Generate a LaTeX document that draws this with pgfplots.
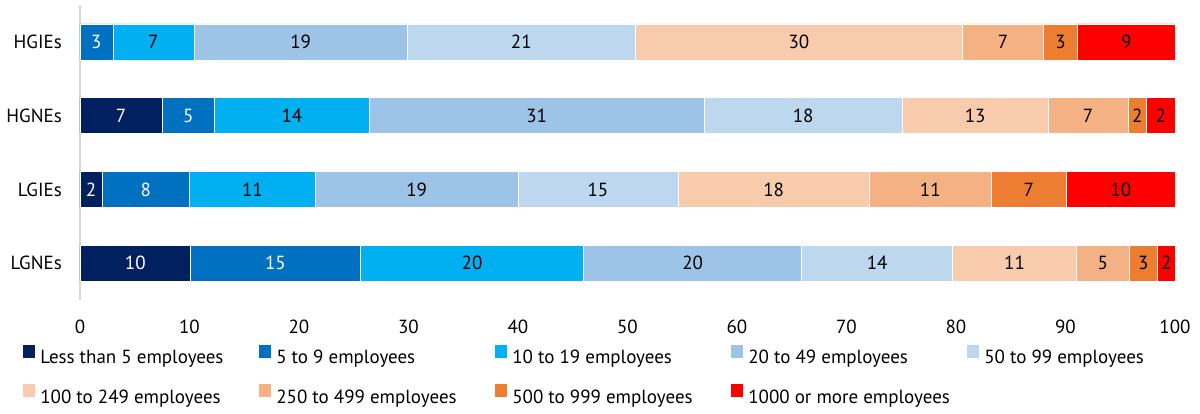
\documentclass[border=0pt]{standalone}
\usepackage{fontspec}
\setmainfont{PT Sans}
\usepackage{pgfplots}
\pgfplotsset{compat=1.18}
\definecolor{c1}{HTML}{002060}
\definecolor{c2}{HTML}{0070C0}
\definecolor{c3}{HTML}{00B0F0}
\definecolor{c4}{HTML}{9DC3E6}
\definecolor{c5}{HTML}{BDD7EE}
\definecolor{c6}{HTML}{F8CBAD}
\definecolor{c7}{HTML}{F4B183}
\definecolor{c8}{HTML}{ED7D31}
\definecolor{c9}{HTML}{FF0000}
\newcommand{\lbox}[1]{\makebox[219pt][l]{#1}}
\begin{document}
\begin{tikzpicture}[font=\fontsize{19}{22}\selectfont]
\path[use as bounding box] (0pt,0pt) rectangle (1200pt,-414pt);
\begin{axis}[
  at={(80pt,-300pt)}, anchor=south west,
  width=1095pt, height=295pt, scale only axis,
  xbar stacked, bar width=36pt,
  xmin=0, xmax=100, ymin=-0.5, ymax=3.5,
  xtick={0,10,...,100},
  ytick={0,1,2,3}, yticklabels={LGNEs,LGIEs,HGNEs,HGIEs},
  axis y line*=left, axis x line*=bottom,
  x axis line style={draw=none},
  y axis line style={draw=black!15, line width=2pt},
  major tick length=0pt,
  /pgf/number format/assume math mode=true,
  xticklabel style={anchor=north, inner sep=0pt, yshift=-20pt},
  yticklabel style={anchor=east, inner sep=0pt, xshift=-18pt},
  point meta=explicit symbolic,
  nodes near coords,
  every node near coord/.append style={inner sep=0pt, text=black},
  legend image code/.code={\fill[#1,draw=none] (0pt,0pt) rectangle (12pt,13pt);},
  legend columns=5,
  legend cell align=left,
  legend style={at={(-0.0547,-0.145)}, anchor=north west, draw=none,
    nodes={inner sep=0pt}, row sep=19pt,
    /tikz/every odd column/.append style={column sep=5pt}},
]
\addplot[fill=c1, draw=white, line width=0.5pt, every node near coord/.append style={text=white}] coordinates {(10.1,0) [10] (2.0,1) [2] (7.5,2) [7] (0,3) []};
\addplot[fill=c2, draw=white, line width=0.5pt, every node near coord/.append style={text=white}] coordinates {(15.5,0) [15] (8.0,1) [8] (4.8,2) [5] (3.0,3) [3]};
\addplot[fill=c3, draw=white, line width=0.5pt] coordinates {(20.4,0) [20] (11.5,1) [11] (14.1,2) [14] (7.4,3) [7]};
\addplot[fill=c4, draw=white, line width=0.5pt] coordinates {(19.9,0) [20] (18.5,1) [19] (30.6,2) [31] (19.5,3) [19]};
\addplot[fill=c5, draw=white, line width=0.5pt] coordinates {(13.8,0) [14] (14.6,1) [15] (18.1,2) [18] (20.8,3) [21]};
\addplot[fill=c6, draw=white, line width=0.5pt] coordinates {(11.3,0) [11] (17.5,1) [18] (13.3,2) [13] (29.9,3) [30]};
\addplot[fill=c7, draw=white, line width=0.5pt] coordinates {(4.8,0) [5] (11.1,1) [11] (7.3,2) [7] (7.4,3) [7]};
\addplot[fill=c8, draw=white, line width=0.5pt] coordinates {(2.6,0) [3] (6.9,1) [7] (1.7,2) [2] (3.1,3) [3]};
\addplot[fill=c9, draw=white, line width=0.5pt] coordinates {(1.6,0) [2] (9.9,1) [10] (2.6,2) [2] (8.9,3) [9]};
\legend{\lbox{Less than 5 employees},\lbox{5 to 9 employees},\lbox{10 to 19 employees},\lbox{20 to 49 employees},\lbox{50 to 99 employees},\lbox{100 to 249 employees},\lbox{250 to 499 employees},\lbox{500 to 999 employees},\lbox{1000 or more employees}}
\end{axis}
\end{tikzpicture}
\end{document}
